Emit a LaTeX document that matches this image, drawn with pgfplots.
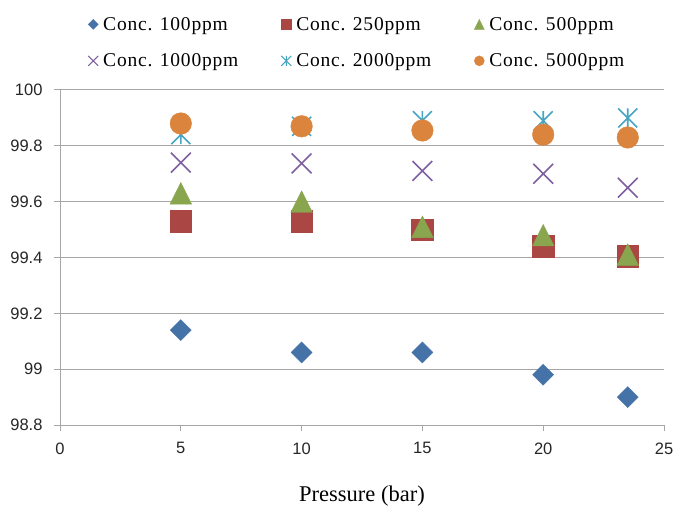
\documentclass[border=0pt]{standalone}
\usepackage{fontspec}
\setmainfont{Liberation Serif}
\setsansfont{Liberation Sans}
\newfontfamily\spaced[LetterSpace=4]{Liberation Serif}
\usepackage{pgfplots}
\pgfplotsset{compat=1.18}
\definecolor{c1}{HTML}{4572A7}
\definecolor{c2}{HTML}{AA4643}
\definecolor{c3}{HTML}{89A54E}
\definecolor{c4}{HTML}{7E5FA0}
\definecolor{c5}{HTML}{45A5C2}
\definecolor{c6}{HTML}{DB843D}
\definecolor{gridgray}{HTML}{A6A6A6}
\definecolor{ticktext}{HTML}{262626}
\pgfdeclareplotmark{dia}{%
  \pgfpathmoveto{\pgfqpoint{0pt}{\pgfplotmarksize}}%
  \pgfpathlineto{\pgfqpoint{\pgfplotmarksize}{0pt}}%
  \pgfpathlineto{\pgfqpoint{0pt}{-\pgfplotmarksize}}%
  \pgfpathlineto{\pgfqpoint{-\pgfplotmarksize}{0pt}}%
  \pgfpathclose\pgfusepathqfillstroke}
\pgfdeclareplotmark{tri}{%
  \pgfpathmoveto{\pgfqpoint{0pt}{\pgfplotmarksize}}%
  \pgfpathlineto{\pgfqpoint{\pgfplotmarksize}{-\pgfplotmarksize}}%
  \pgfpathlineto{\pgfqpoint{-\pgfplotmarksize}{-\pgfplotmarksize}}%
  \pgfpathclose\pgfusepathqfillstroke}
\pgfdeclareplotmark{xstar}{%
  \pgfpathmoveto{\pgfqpoint{0pt}{-\pgfplotmarksize}}%
  \pgfpathlineto{\pgfqpoint{0pt}{\pgfplotmarksize}}%
  \pgfpathmoveto{\pgfqpoint{-\pgfplotmarksize}{-\pgfplotmarksize}}%
  \pgfpathlineto{\pgfqpoint{\pgfplotmarksize}{\pgfplotmarksize}}%
  \pgfpathmoveto{\pgfqpoint{-\pgfplotmarksize}{\pgfplotmarksize}}%
  \pgfpathlineto{\pgfqpoint{\pgfplotmarksize}{-\pgfplotmarksize}}%
  \pgfusepathqstroke}
\begin{document}
\begin{tikzpicture}
\useasboundingbox (-60bp,-83bp) rectangle (616bp,425bp);
\begin{axis}[
  scale only axis,
  width=604bp, height=335bp,
  at={(0,0)}, anchor=south west,
  xmin=0, xmax=25, ymin=98.8, ymax=100,
  xtick={0,5,10,15,20,25},
  ytick={98.8,99,99.2,99.4,99.6,99.8,100},
  yticklabels={98.8,99,99.2,99.4,99.6,99.8,100},
  xticklabels={0,5,10,15,20,25},
  axis lines*=left,
  axis line style={gridgray, line width=1bp},
  ymajorgrids,
  grid style={gridgray, line width=1bp},
  tick align=outside,
  major tick length=6bp,
  tick style={gridgray, line width=1bp},
  /pgf/number format/assume math mode=true,
  tick label style={font=\sffamily\fontsize{16.5bp}{19bp}\selectfont, text=ticktext},
  xticklabel style={yshift=-8bp},
  yticklabel style={xshift=-8bp},
  xlabel={Pressure (bar)},
  xlabel style={font=\fontsize{22.5bp}{26bp}\selectfont, at={(axis description cs:0.5,-0.212)}, anchor=center},
  legend columns=3,
  legend style={draw=none, fill=none, inner sep=0pt, at={(0.0464,1.218)}, anchor=north west,
    font=\spaced\fontsize{19.5bp}{22bp}\selectfont, row sep=22bp,
    nodes={inner sep=0pt},
    /tikz/every odd column/.append style={column sep=5bp},
    /tikz/every even column/.append style={column sep=43bp}},
  legend cell align=left,
  legend image post style={mark size=5bp},
  legend image code/.code={\draw[#1] plot coordinates {(0bp,0bp)};},
]
\addplot[only marks, mark=dia, mark size=10.5bp, color=c1, fill=c1] coordinates {
(5,99.14) (10,99.06) (15,99.06) (20,98.98) (23.5,98.90)};
\addlegendentry{Conc. 100ppm}
\addplot[only marks, mark=square*, mark size=10.8bp, color=c2, fill=c2, mark options={rounded corners=1.5bp}] coordinates {
(5,99.53) (10,99.53) (15,99.50) (20,99.44) (23.5,99.405)};
\addlegendentry{Conc. 250ppm}
\addplot[only marks, mark=tri, mark size=10.8bp, color=c3, fill=c3] coordinates {
(5,99.63) (10,99.60) (15,99.51) (20,99.48) (23.5,99.41)};
\addlegendentry{Conc. 500ppm}
\addplot[only marks, mark=x, mark size=14bp, color=c4, mark options={line width=1.6bp}, legend image post style={mark size=7bp, mark options={line width=1bp}}] coordinates {
(5,99.74) (10,99.737) (15,99.71) (20,99.70) (23.5,99.65)};
\addlegendentry{Conc. 1000ppm}
\addplot[only marks, mark=xstar, mark size=9.5bp, color=c5, mark options={line width=1.6bp}, legend image post style={mark size=5bp, mark options={line width=1bp}}] coordinates {
(5,99.84) (10,99.87) (15,99.89) (20,99.89) (23.5,99.90)};
\addlegendentry{Conc. 2000ppm}
\addplot[only marks, mark=*, mark size=10.8bp, color=c6, fill=c6] coordinates {
(5,99.88) (10,99.87) (15,99.855) (20,99.84) (23.5,99.83)};
\addlegendentry{Conc. 5000ppm}
\end{axis}
\end{tikzpicture}
\end{document}
